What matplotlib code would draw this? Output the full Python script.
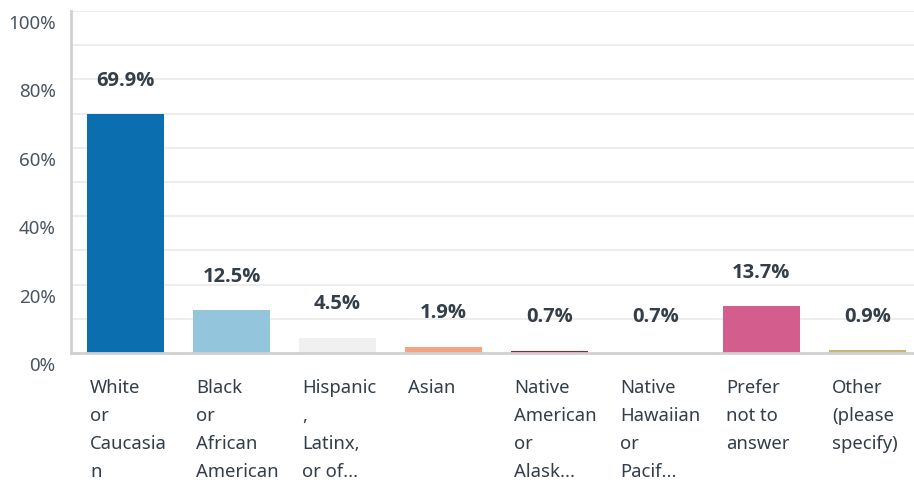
import matplotlib.pyplot as plt
from matplotlib.transforms import ScaledTranslation, blended_transform_factory

# Survey answers: share of respondents per category (%)
categories = [
    "White\nor\nCaucasia\nn",
    "Black\nor\nAfrican\nAmerican",
    "Hispanic\n,\nLatinx,\nor of...",
    "Asian",
    "Native\nAmerican\nor\nAlask...",
    "Native\nHawaiian\nor\nPacif...",
    "Prefer\nnot to\nanswer",
    "Other\n(please\nspecify)",
]
values = [69.9, 12.5, 4.5, 1.9, 0.7, 0.7, 13.7, 0.9]
value_labels = ["69.9%", "12.5%", "4.5%", "1.9%", "0.7%", "0.7%", "13.7%", "0.9%"]
colors = ["#0a6eaf", "#93c5dd", "#f0f0f0", "#f4a480", "#b2182b",
          "#ffffff", "#d35d8d", "#c9b677"]
yticks = [0, 20, 40, 60, 80, 100]
ytick_labels = ["0%", "20%", "40%", "60%", "80%", "100%"]

plt.rcParams['font.family'] = ['Noto Sans', 'DejaVu Sans']
text_color = "#333e48"

fig = plt.figure(figsize=(9.14, 4.84), dpi=100)
ax = fig.add_axes([71 / 914, 131 / 484, 843 / 914, 342 / 484])

x = list(range(len(values)))
ax.bar(x, values, width=0.726, color=colors, zorder=3)

ax.set_xlim(-0.514, 7.44)
ax.set_ylim(0, 100)

# light grid every 10%
for g in range(10, 101, 10):
    ax.axhline(g, color="#ededed", lw=1.5, zorder=1)

ax.set_yticks(yticks)
ax.set_yticklabels(ytick_labels, fontsize=13.5, color="#4a5560")
ax.tick_params(axis="y", length=0, pad=11)
ax.tick_params(axis="x", length=0, labelbottom=False)
shift = ScaledTranslation(0, -11 / 100, fig.dpi_scale_trans)
for lab in ax.get_yticklabels():
    lab.set_transform(lab.get_transform() + shift)

for side in ["top", "right"]:
    ax.spines[side].set_visible(False)
for side in ["left", "bottom"]:
    ax.spines[side].set_color("#d0d0d0")
    ax.spines[side].set_linewidth(2)
    ax.spines[side].set_zorder(4)

# value labels above bars
for xi, v, lab in zip(x, values, value_labels):
    ax.annotate(lab, (xi, v), xytext=(0, 24), textcoords="offset points",
                ha="center", va="center", fontsize=14.5, fontweight="bold",
                family=["Open Sans", "Lato", "DejaVu Sans"], color=text_color)

# wrapped category labels under each bar
trans = blended_transform_factory(ax.transData, ax.transAxes)
for xi, cat in zip(x, categories):
    ax.text(xi - 0.335, -0.075, cat, transform=trans, ha="left", va="top",
            fontsize=13.3, color=text_color, linespacing=1.72)

fig.savefig("out.png", dpi=100)
